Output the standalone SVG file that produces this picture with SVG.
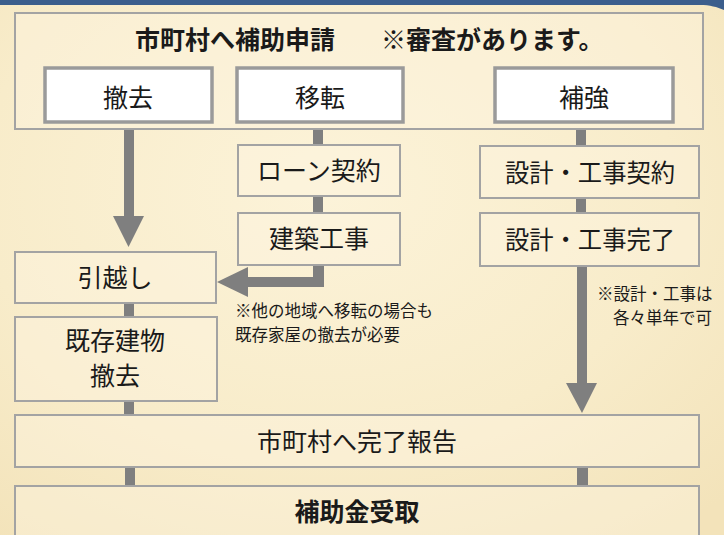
<svg xmlns="http://www.w3.org/2000/svg" width="724" height="535" viewBox="0 0 724 535">
<defs>
<style>
text{font-family:"Noto Sans CJK JP","Noto Sans CJK SC",sans-serif;fill:#1a1a1a}
.lbl{font-size:25px;text-anchor:middle}
.b{font-weight:bold}
.note{font-size:16.5px}
.box{fill:#fdf5df;fill-opacity:0.45;stroke:#a3a3a3;stroke-width:2}
.btn{fill:#ffffff;stroke:#9a9a9a;stroke-width:3.5}
.bar{fill:#7f7f7f}
</style>
<radialGradient id="bg" cx="0.45" cy="0.35" r="0.8">
<stop offset="0" stop-color="#fcf3d9"/>
<stop offset="0.6" stop-color="#f8ecca"/>
<stop offset="1" stop-color="#f3e3ba"/>
</radialGradient>
</defs>
<rect x="0" y="0" width="724" height="535" fill="url(#bg)"/>
<path d="M0 0 H724 V10 C717 7 710 5 700 5 H0 Z" fill="#3b5e8c"/>

<g id="connectors">
<rect class="bar" x="124" y="129" width="10" height="88"/>
<polygon class="bar" points="113,216 144,216 128.5,247"/>
<rect class="bar" x="313" y="129" width="10" height="16"/>
<rect class="bar" x="313" y="196" width="10" height="17"/>
<path class="bar" d="M313 265 H324 V287 H247 V277 H313 Z"/>
<polygon class="bar" points="248,267 248,297 217,282"/>
<rect class="bar" x="576" y="129" width="10" height="17"/>
<rect class="bar" x="576" y="198" width="10" height="15"/>
<rect class="bar" x="577" y="266" width="10" height="118"/>
<polygon class="bar" points="566,383 597,383 582,413"/>
<rect class="bar" x="124" y="303" width="10" height="14"/>
<rect class="bar" x="124" y="401" width="10" height="14"/>
<rect class="bar" x="125" y="467" width="10" height="19"/>
<rect class="bar" x="577" y="467" width="11" height="19"/>
</g>

<g id="apply">
<rect class="box" x="15" y="13" width="688" height="116"/>
<text class="b" font-size="25" y="49"><tspan x="135">市町村へ補助申請</tspan><tspan x="381">※審査があります。</tspan></text>
</g>
<g id="tekkyo">
<rect class="btn" x="45" y="68" width="167" height="54"/>
<text class="lbl" x="128" y="107">撤去</text>
</g>
<g id="iten">
<rect class="btn" x="237" y="68" width="166" height="54"/>
<text class="lbl" x="320" y="107">移転</text>
</g>
<g id="hokyo">
<rect class="btn" x="495" y="68" width="178" height="54"/>
<text class="lbl" x="584" y="107">補強</text>
</g>
<g id="loan">
<rect class="box" x="238" y="145" width="162" height="51"/>
<text class="lbl" x="319" y="180">ローン契約</text>
</g>
<g id="kenchiku">
<rect class="box" x="238" y="213" width="162" height="52"/>
<text class="lbl" x="319" y="248">建築工事</text>
</g>
<g id="sekkei-keiyaku">
<rect class="box" x="480" y="146" width="219" height="52"/>
<text class="lbl" x="590" y="182" textLength="170" lengthAdjust="spacingAndGlyphs">設計・工事契約</text>
</g>
<g id="sekkei-kanryo">
<rect class="box" x="480" y="213" width="219" height="53"/>
<text class="lbl" x="590" y="249" textLength="170" lengthAdjust="spacingAndGlyphs">設計・工事完了</text>
</g>
<g id="hikkoshi">
<rect class="box" x="15" y="252" width="201" height="51"/>
<text class="lbl" x="115" y="287">引越し</text>
</g>
<g id="kison">
<rect class="box" x="15" y="317" width="202" height="84"/>
<text class="lbl" x="115" y="350" font-size="24">既存建物<tspan x="115" dy="35">撤去</tspan></text>
</g>
<g id="note-left">
<text class="note" x="235" y="317">※他の地域へ移転の場合も<tspan x="235" dy="24">既存家屋の撤去が必要</tspan></text>
</g>
<g id="note-right">
<text class="note" x="597" y="300">※設計・工事は<tspan x="613" dy="24">各々単年で可</tspan></text>
</g>
<g id="kanryo">
<rect class="box" x="15" y="415" width="684" height="52"/>
<text class="lbl" x="357" y="451">市町村へ完了報告</text>
</g>
<g id="juryo">
<rect class="box" x="15" y="486" width="684" height="60"/>
<text class="lbl b" x="357" y="521">補助金受取</text>
</g>
</svg>
